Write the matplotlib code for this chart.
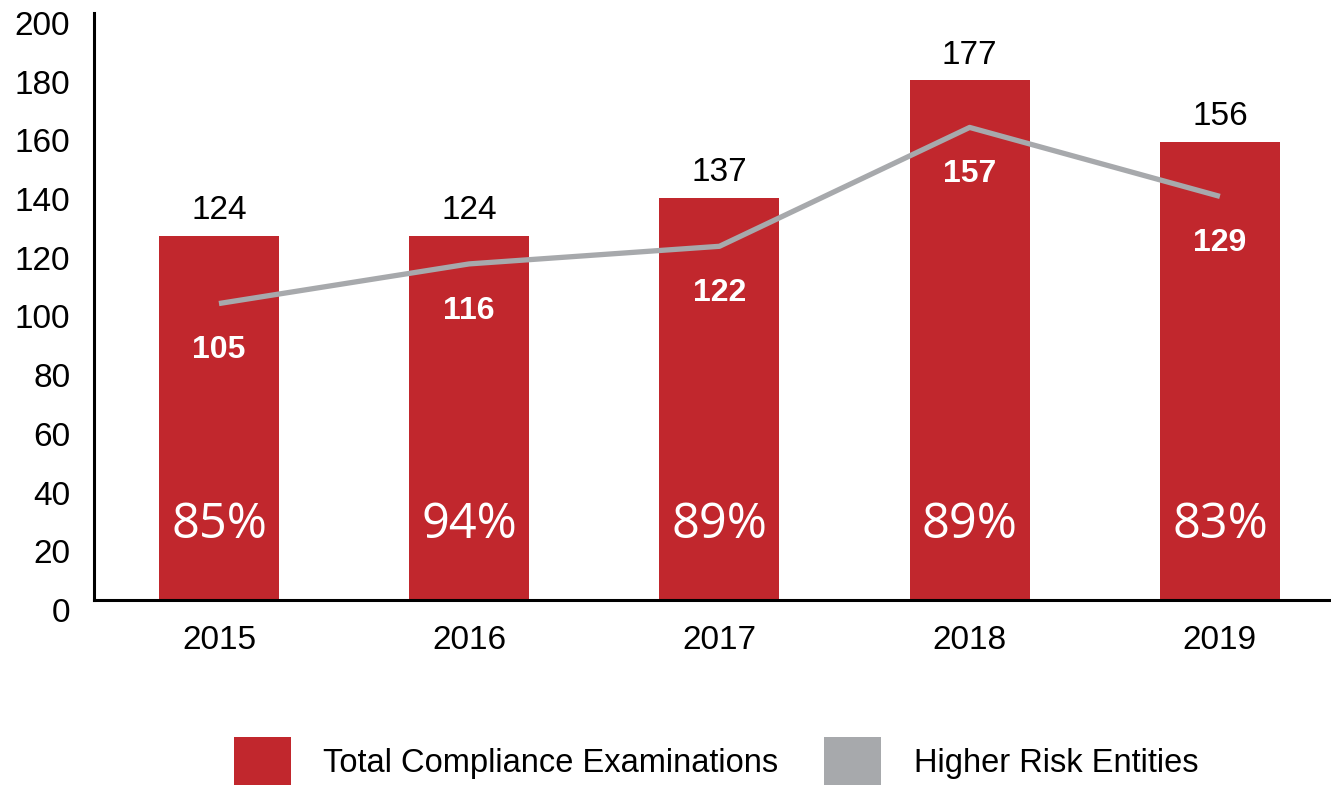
import matplotlib.pyplot as plt
import matplotlib.transforms as mtransforms
from matplotlib.patches import Patch

plt.rcParams['font.family'] = ['Liberation Sans', 'DejaVu Sans']

years = ['2015', '2016', '2017', '2018', '2019']
total_exams = [124, 124, 137, 177, 156]
# the grey line, as it is drawn in the picture
higher_risk_line = [101, 114.5, 120.5, 161, 137.5]
higher_risk_labels = ['105', '116', '122', '157', '129']
pct_labels = ['85%', '94%', '89%', '89%', '83%']

red = '#C1272D'
grey = '#A7A9AC'

fig = plt.figure(figsize=(13.31, 7.85), dpi=100)
ax = fig.add_axes([0.0706, 0.2357, 0.9294, 0.7478])

x = list(range(len(years)))
ax.bar(x, total_exams, width=0.48, color=red, zorder=2)
ax.plot(x, higher_risk_line, color=grey, lw=3.8, solid_capstyle='butt', zorder=3)

for i in x:
    ax.annotate(str(total_exams[i]), (i, total_exams[i]), xytext=(0, 12),
                textcoords='offset points', ha='center', va='baseline',
                fontsize=24, color='black')
    ax.text(i, higher_risk_line[i] - 16, higher_risk_labels[i], ha='center',
            va='center', fontsize=23, fontweight='bold', color='white', zorder=4)
    ax.text(i, 25.5, pct_labels[i], ha='center', va='center', fontsize=35,
            color='white', family='Open Sans', zorder=4)

ax.set_xlim(-0.4995, 4.444)
ax.set_ylim(0, 200)
ax.set_yticks(range(0, 201, 20))
ax.set_xticks(x)
ax.set_xticklabels(years)
ax.tick_params(axis='both', length=0, labelsize=24)
ax.tick_params(axis='x', pad=18)
ax.tick_params(axis='y', pad=17)

# y labels sit a little below their gridline in the original
shift = mtransforms.ScaledTranslation(0, -0.10, fig.dpi_scale_trans)
for lab in ax.get_yticklabels():
    lab.set_transform(lab.get_transform() + shift)

for s in ['top', 'right']:
    ax.spines[s].set_visible(False)
for s in ['left', 'bottom']:
    ax.spines[s].set_linewidth(2.2)
    ax.spines[s].set_color('black')

handles = [Patch(facecolor=red), Patch(facecolor=grey)]
fig.legend(handles, ['Total Compliance Examinations', 'Higher Risk Entities'],
           loc='center', bbox_to_anchor=(0.538, 0.03), ncol=2, frameon=False,
           fontsize=23.5, handlelength=1.75, handleheight=1.9,
           handletextpad=1.0, columnspacing=1.4)

fig.savefig('out.png', dpi=100)
